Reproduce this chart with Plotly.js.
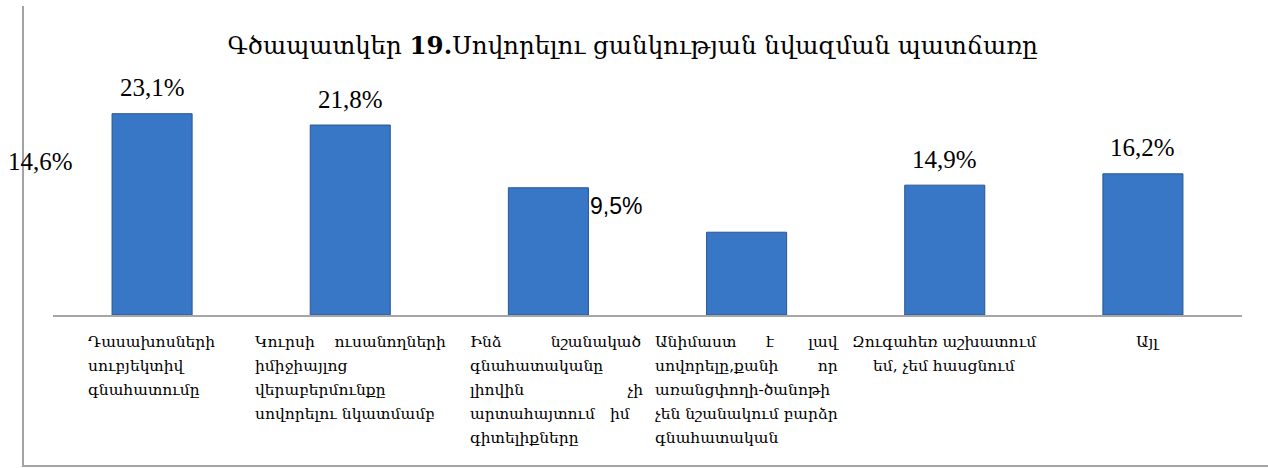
<!DOCTYPE html>
<html>
<head>
<meta charset="utf-8">
<script src="https://cdn.plot.ly/plotly-3.0.1.min.js"></script>
<style>
  html, body { margin: 0; padding: 0; background: #ffffff; }
  #frame { position: absolute; left: 22px; top: 6px; width: 1246px; height: 461px;
           border-left: 2px solid #a3a3a3; border-bottom: 2px solid #a3a3a3; box-sizing: border-box; }
  #chart { position: absolute; left: 0; top: 0; width: 1268px; height: 468px; }
</style>
</head>
<body>
<div id="frame"></div>
<div id="chart"></div>
<script>
// ---- data ----
const NB = "\u00A0";
// category labels, one entry per printed line (extra no-break spaces imitate the justified layout)
const categoryLines = [
  ["Դասախոսների", "սուբյեկտիվ", "գնահատումը"],
  ["Կուրսի" + NB.repeat(4) + "ուսանողների", "իմիջիայլոց", "վերաբերմունքը", "սովորելու նկատմամբ"],
  ["Ինձ" + NB.repeat(10) + "նշանակած", "գնահատականը", "լիովին" + NB.repeat(21) + "չի", "արտահայտում" + NB.repeat(3) + "իմ", "գիտելիքները"],
  ["Անիմաստ" + NB.repeat(6) + "է" + NB.repeat(7) + "լավ", "սովորելը,քանի" + NB.repeat(8) + "որ", "առանցփողի-ծանոթի", "չեն նշանակում բարձր", "գնահատական"],
  ["Զուգահեռ աշխատում", "եմ, չեմ հասցնում"],
  ["Այլ"]
];
const categories = categoryLines.map(l => l.join(" ").replace(/\u00A0+/g, " "));
const values = [23.1, 21.8, 14.6, 9.5, 14.9, 16.2];
const valueLabels = ["23,1%", "21,8%", "14,6%", "9,5%", "14,9%", "16,2%"];
const titleText = "Գծապատկեր <b>19.</b>Սովորելու ցանկության նվազման պատճառը";

// ---- styling (positions / offsets kept apart from the data) ----
const labelXShift = [0, 0, -508, -131, 0, 0];
const labelFont = ["Liberation Serif", "Liberation Serif", "Liberation Serif", "Liberation Sans", "Liberation Serif", "Liberation Serif"];
const labelSize = [25, 25, 25, 23, 25, 25];
const catAnchor = ["left", "left", "left", "left", "center", "center"];
const catXShift = [-66, -97, -80, -94, 0, 5];
const armFont = "Sylfaen, 'DejaVu Serif', 'DejaVu Sans', serif";
const catFontSize = 15.5;
const catLineStep = 24;
const catFirstLine = 27;

const annotations = [];
categories.forEach((c, i) => {
  annotations.push({
    x: c, y: values[i], xref: "x", yref: "y",
    text: valueLabels[i], showarrow: false,
    xanchor: "center", yanchor: "middle",
    xshift: labelXShift[i], yshift: 26,
    font: { family: "'" + labelFont[i] + "', serif", size: labelSize[i], color: "#000000" }
  });
  categoryLines[i].forEach((line, k) => {
    annotations.push({
      x: c, y: 0, xref: "x", yref: "y",
      text: line, showarrow: false,
      xanchor: catAnchor[i], yanchor: "middle",
      xshift: catXShift[i],
      yshift: -(catFirstLine + k * catLineStep),
      font: { family: armFont, size: catFontSize, color: "#000000" }
    });
  });
});

const trace = {
  type: "bar",
  x: categories,
  y: values,
  marker: { color: "#3876c6", line: { color: "#2a5791", width: 1 } },
  hoverinfo: "skip"
};

const layout = {
  width: 1268, height: 468,
  margin: { l: 53, r: 26, t: 98, b: 153, pad: 0 },
  paper_bgcolor: "rgba(0,0,0,0)",
  plot_bgcolor: "rgba(0,0,0,0)",
  bargap: 0.596,
  showlegend: false,
  title: {
    text: titleText,
    x: 0.499, xanchor: "center",
    y: 0.904, yanchor: "middle",
    font: { family: armFont, size: 24.5, color: "#000000" }
  },
  xaxis: {
    type: "category",
    range: [-0.5, 5.5], autorange: false,
    showticklabels: false, ticks: "",
    showline: true, linecolor: "#a6a6a6", linewidth: 2,
    showgrid: false, zeroline: false, fixedrange: true
  },
  yaxis: {
    range: [0, 24.9], visible: false, showgrid: false, zeroline: false, fixedrange: true
  },
  annotations: annotations
};

Plotly.newPlot("chart", [trace], layout, { displayModeBar: false, staticPlot: true });
</script>
</body>
</html>
